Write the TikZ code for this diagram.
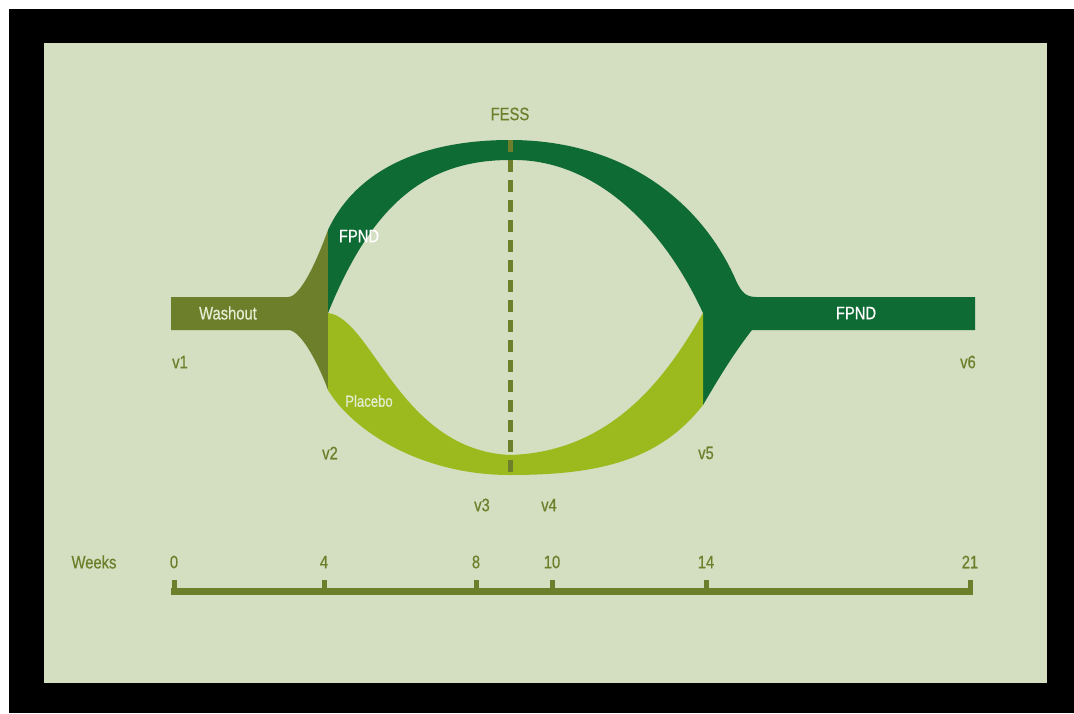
\documentclass[tikz,border=0pt]{standalone}
\usepackage{fontspec}
\setmainfont{Liberation Sans}[FakeStretch=0.82,FakeBold=0.6]
\usetikzlibrary{positioning}
\definecolor{panel}{HTML}{D4DEC0}
\definecolor{olive}{HTML}{6E7F2C}
\definecolor{forest}{HTML}{0E6B33}
\definecolor{lime}{HTML}{9CBA1E}
\definecolor{pale}{HTML}{E6ECD2}
\tikzset{
  lbl/.style={text=olive,font=\fontsize{18}{18}\selectfont,inner sep=0pt},
  inlbl/.style={lbl,text=pale},
  tick/.style={line width=5pt,olive},
  bar/.style={line width=7pt,olive},
  fess/.style={line width=5pt,olive,dash pattern=on 12pt off 8pt}
}

\begin{document}
\begin{tikzpicture}[x=1pt,y=-1pt]
    \useasboundingbox (0,0) rectangle (1074,713);
    \fill[white] (0,0) rectangle (1074,713);
    \fill[black] (9,9) rectangle (1074,713);
    \fill[panel] (44,43) rectangle (1047,683);
    % washout arm and its flare
    \fill[olive] (171,297) -- (288,297) .. controls (302,297) and (320,252) .. (328,230)
      -- (328,390) .. controls (320,368) and (302,330) .. (288,330) -- (171,330) -- cycle;
    % FPND arm, over the top and out to the right
    \fill[forest] (328,230) .. controls (352,178) and (410,140) .. (510,140)
      .. controls (620,140) and (698,198) .. (734,276) .. controls (740,290) and (744,297) .. (756,297)
      -- (975,297) -- (975,330) -- (752,330)
      .. controls (730,358) and (712,390) .. (703,405) -- (703,313)
      .. controls (660,220) and (590,158) .. (510,160)
      .. controls (425,160) and (372,205) .. (328,313) -- cycle;
    % placebo arm, under the bottom
    \fill[lime] (328,313) .. controls (372,318) and (400,450) .. (510,455)
      .. controls (610,452) and (665,380) .. (703,313) -- (703,405)
      .. controls (660,460) and (600,475) .. (510,475)
      .. controls (420,475) and (352,430) .. (328,390) -- cycle;
    % surgery line
    \coordinate (fessTop) at (510,140);
    \coordinate (fessBot) at (510,475);
    \draw[fess] (fessTop) -- (fessBot);
    \node[lbl] (fess) at (510,114) {FESS};
    \node[inlbl] (washout) at (228,313) {Washout};
    \node[inlbl,text=white] (fpndA) at (359,236) {FPND};
    \node[inlbl,font=\fontsize{16}{16}\selectfont] (placebo) at (369,401) {Placebo};
    \node[inlbl,text=white] (fpndB) at (856,313) {FPND};
    \foreach \x/\y/\v in {180/362/1,330/453/2,482/505/3,549/505/4,706/453/5,968/362/6}
      \node[lbl] (v\v) at (\x,\y) {v\v};
    % weeks axis
    \node[lbl] (weeks) at (94,562) {Weeks};
    \foreach \x/\w in {174/0,324/4,476/8,552/10,706/14,970/21}{
      \node[lbl] (n\w) at (\x,562) {\w};
      \coordinate (t\w) at (\x,591);
      \draw[tick] (t\w) -- ++(0,-11);
    }
    \draw[bar] ([xshift=-3pt]t0) -- ([xshift=3pt]t21);
\end{tikzpicture}
\end{document}
